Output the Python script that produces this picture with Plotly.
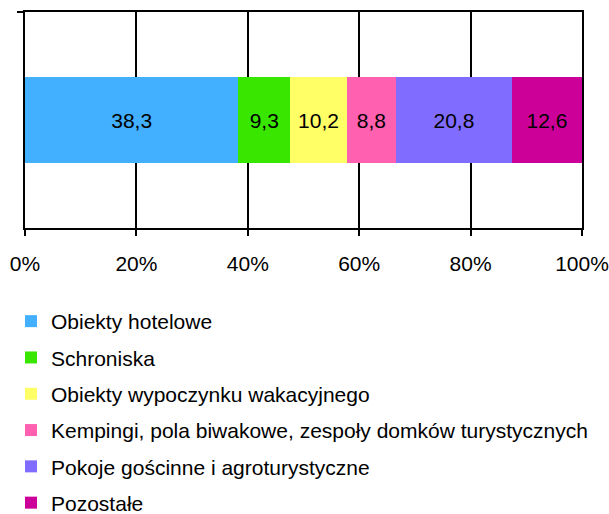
import plotly.graph_objects as go

categories = ["Obiekty hotelowe", "Schroniska", "Obiekty wypoczynku wakacyjnego",
              "Kempingi, pola biwakowe, zespoły domków turystycznych",
              "Pokoje gościnne i agroturystyczne", "Pozostałe"]
values = [38.3, 9.3, 10.2, 8.8, 20.8, 12.6]
colors = ["#42B0FF", "#39E600", "#FFFF66", "#FF61B0", "#806CFF", "#CC0099"]
row_label = [""]
tick_vals = [0, 20, 40, 60, 80, 100]
tick_text = ["0%", "20%", "40%", "60%", "80%", "100%"]

FONT = "Liberation Sans, Arial, sans-serif"
W, H = 609, 514

fig = go.Figure()
for name, v, c in zip(categories, values, colors):
    fig.add_trace(go.Bar(
        y=row_label, x=[v], name=name, orientation="h",
        marker=dict(color=c, line=dict(width=0)),
        width=0.4,
        texttemplate="%{x:.1f}", textposition="inside",
        insidetextanchor="middle", textangle=0,
        insidetextfont=dict(family=FONT, size=21, color="black"),
        legendgroup=name,
        hoverinfo="skip",
    ))

fig.update_layout(
    width=W, height=H,
    barmode="stack",
    separators=", ",
    paper_bgcolor="white", plot_bgcolor="white",
    margin=dict(l=0, r=0, t=0, b=0, autoexpand=False),
    font=dict(family=FONT, size=21, color="black"),
    showlegend=True,
    legend=dict(
        orientation="v", traceorder="grouped", tracegroupgap=6,
        x=11 / W, xanchor="left", y=(H - 301) / H, yanchor="top",
        font=dict(family=FONT, size=21, color="black"),
        bgcolor="rgba(0,0,0,0)", itemclick=False, itemdoubleclick=False,
    ),
    xaxis=dict(
        domain=[25 / W, 582 / W],
        range=[0, 100], tickmode="array", tickvals=tick_vals, ticktext=tick_text,
        showgrid=True, gridcolor="black", gridwidth=1.6,
        showline=True, linecolor="black", linewidth=2, mirror=True,
        ticks="outside", ticklen=6, tickwidth=2, tickcolor="black",
        tickfont=dict(family=FONT, size=21, color="black"),
        ticklabelstandoff=10, zeroline=False, fixedrange=True,
    ),
    yaxis=dict(
        domain=[(H - 228) / H, (H - 12) / H],
        type="category", range=[-0.5, 0.5],
        showline=True, linecolor="black", linewidth=2, mirror=True,
        ticks="outside", tickson="boundaries", ticklen=6, tickwidth=2, tickcolor="black",
        showticklabels=False, showgrid=False, fixedrange=True,
    ),
)

fig.write_html("out.html", config={"displayModeBar": False},
               post_script="document.body.style.margin='0';")
